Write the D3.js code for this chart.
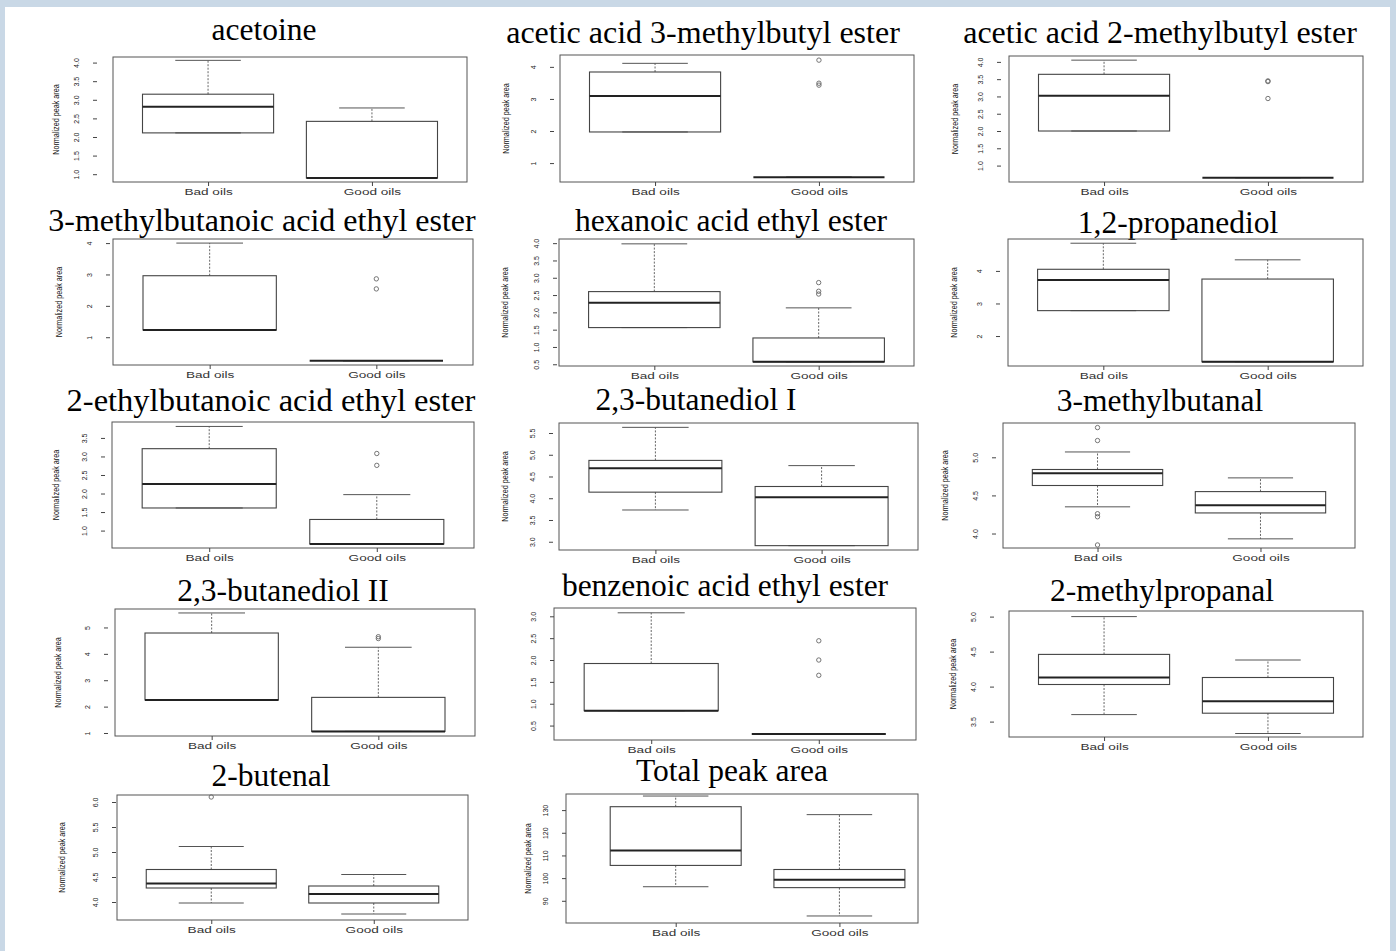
<!DOCTYPE html>
<html><head><meta charset="utf-8">
<script src="https://cdn.jsdelivr.net/npm/d3@7"></script>
<style>html,body{margin:0;padding:0;background:#fff;} svg{display:block;}</style>
</head><body>
<svg id="chart" width="1396" height="951"></svg>
<script>
// ---------- data ----------
const compounds = [
  "acetoine", "acetic acid 3-methylbutyl ester", "acetic acid 2-methylbutyl ester",
  "3-methylbutanoic acid ethyl ester", "hexanoic acid ethyl ester", "1,2-propanediol",
  "2-ethylbutanoic acid ethyl ester", "2,3-butanediol I", "3-methylbutanal",
  "2,3-butanediol II", "benzenoic acid ethyl ester", "2-methylpropanal",
  "2-butenal", "Total peak area"
];
const groups = ["Bad oils", "Good oils"];
// [lower whisker, Q1, median, Q3, upper whisker]
const badStats = [
  [2.11, 2.11, 2.81, 3.15, 4.06],
  [1.97, 1.97, 3.09, 3.84, 4.11],
  [2.00, 2.00, 3.02, 3.64, 4.05],
  [1.23, 1.23, 1.23, 2.96, 4.00],
  [1.56, 1.56, 2.28, 2.60, 3.98],
  [2.78, 2.78, 3.72, 4.05, 4.85],
  [1.61, 1.61, 2.26, 3.21, 3.81],
  [3.73, 4.14, 4.69, 4.87, 5.63],
  [4.35, 4.63, 4.79, 4.84, 5.07],
  [2.25, 2.25, 2.25, 4.79, 5.55],
  [0.84, 0.84, 0.84, 1.92, 3.08],
  [3.60, 4.03, 4.13, 4.46, 5.00],
  [3.98, 4.28, 4.37, 4.65, 5.11],
  [96.2, 105.6, 112.2, 131.5, 136.2]
];
const goodStats = [
  [0.90, 0.90, 0.90, 2.42, 2.78],
  [0.56, 0.56, 0.56, 0.56, 0.56],
  [0.65, 0.65, 0.65, 0.65, 0.65],
  [0.25, 0.25, 0.25, 0.25, 0.25],
  [0.57, 0.57, 0.57, 1.26, 2.13],
  [1.21, 1.21, 1.21, 3.75, 4.34],
  [0.64, 0.64, 0.64, 1.30, 1.97],
  [2.91, 2.91, 4.02, 4.27, 4.75],
  [3.93, 4.27, 4.37, 4.55, 4.73],
  [1.06, 1.06, 1.06, 2.35, 4.25],
  [0.31, 0.31, 0.31, 0.31, 0.31],
  [3.33, 3.62, 3.79, 4.13, 4.38],
  [3.76, 3.98, 4.16, 4.32, 4.55],
  [83.3, 95.8, 99.3, 103.8, 128.0]
];
const badOutliers = [[], [], [], [], [], [], [], [], [5.39, 5.22, 4.26, 4.22, 3.85], [], [], [], [6.10], []];
const goodOutliers = [[], [4.21, 3.49, 3.43], [3.45, 3.43, 2.94], [2.86, 2.54], [2.86, 2.61, 2.53], [], [3.08, 2.76], [], [], [4.65, 4.58], [2.44, 2.00, 1.65], [], [], []];
const yTickLabels = [
  ["1.0", "1.5", "2.0", "2.5", "3.0", "3.5", "4.0"],
  ["1", "2", "3", "4"],
  ["1.0", "1.5", "2.0", "2.5", "3.0", "3.5", "4.0"],
  ["1", "2", "3", "4"],
  ["0.5", "1.0", "1.5", "2.0", "2.5", "3.0", "3.5", "4.0"],
  ["2", "3", "4"],
  ["1.0", "1.5", "2.0", "2.5", "3.0", "3.5"],
  ["3.0", "3.5", "4.0", "4.5", "5.0", "5.5"],
  ["4.0", "4.5", "5.0"],
  ["1", "2", "3", "4", "5"],
  ["0.5", "1.0", "1.5", "2.0", "2.5", "3.0"],
  ["3.5", "4.0", "4.5", "5.0"],
  ["4.0", "4.5", "5.0", "5.5", "6.0"],
  ["90", "100", "110", "120", "130"]
];
// visible value range of each plot region [bottom, top]
const yRanges = [
  [0.79, 4.15], [0.41, 4.37], [0.525, 4.17], [0.115, 4.13], [0.45, 4.12], [1.08, 4.98],
  [0.53, 3.93], [2.81, 5.73], [3.81, 5.45], [0.886, 5.70], [0.17, 3.19], [3.28, 5.08],
  [3.64, 6.14], [80.2, 137.1]
];
const yTitle = "Normalized peak area";

// ---------- layout (pixels) ----------
const layout = [
  {l:113, t:57,  r:467, b:182, tx:264,  ty:40,  ts:31.5, lab:37, yt:57},
  {l:560, t:55,  r:914, b:182, tx:703,  ty:43,  ts:32,   lab:27, yt:54},
  {l:1009,t:56,  r:1363,b:182, tx:1160, ty:43,  ts:32,   lab:29, yt:54},
  {l:113, t:239, r:473, b:365, tx:262,  ty:231, ts:32,   lab:24, yt:54},
  {l:559, t:239, r:914, b:366, tx:731,  ty:231, ts:31.5, lab:23, yt:54},
  {l:1008,t:239, r:1363,b:366, tx:1178, ty:233, ts:31.5, lab:29, yt:54},
  {l:112, t:422, r:474, b:548, tx:271,  ty:411, ts:32.5, lab:28, yt:56},
  {l:559, t:423, r:918, b:550, tx:696,  ty:410, ts:31.5, lab:27, yt:54},
  {l:1003,t:423, r:1355,b:548, tx:1160, ty:411, ts:31.5, lab:28, yt:58},
  {l:115, t:609, r:475, b:736, tx:283,  ty:601, ts:31.5, lab:28, yt:57},
  {l:554, t:608, r:916, b:740, tx:725,  ty:596, ts:31.5, lab:21, yt:null},
  {l:1009,t:611, r:1363,b:737, tx:1162, ty:601, ts:31.5, lab:36, yt:56},
  {l:117, t:795, r:468, b:920, tx:271,  ty:786, ts:31.5, lab:22, yt:55},
  {l:566, t:794, r:918, b:923, tx:732,  ty:781, ts:31.5, lab:21, yt:38, xd:[0.33, 2.48]}
];

const svg = d3.select("#chart");
svg.append("rect").attr("width", 1396).attr("height", 951).attr("fill", "#c9d8e6");
svg.append("rect").attr("x", 5).attr("y", 7).attr("width", 1385).attr("height", 944).attr("fill", "#ffffff");

const sansFont = "'Liberation Sans', Arial, Helvetica, sans-serif";
const serifFont = "'Liberation Serif', 'Times New Roman', Times, serif";

compounds.forEach((name, i) => {
  const L = layout[i];
  const g = svg.append("g");
  const x = d3.scaleLinear().domain(L.xd || [0.42, 2.58]).range([L.l, L.r]);
  const y = d3.scaleLinear().domain(yRanges[i]).range([L.b, L.t]);
  const hw = x(1.4) - x(1);

  // title
  g.append("text").attr("x", L.tx).attr("y", L.ty)
    .attr("text-anchor", "middle").attr("font-family", serifFont)
    .attr("font-size", L.ts).attr("fill", "#000").text(name);

  // frame
  g.append("rect").attr("x", L.l).attr("y", L.t)
    .attr("width", L.r - L.l).attr("height", L.b - L.t)
    .attr("fill", "none").attr("stroke", "#555").attr("stroke-width", 1);

  // boxes
  [badStats[i], goodStats[i]].forEach((s, j) => {
    const cx = x(j + 1);
    const bg = g.append("g");
    if (s[4] > s[3]) {
      bg.append("line").attr("x1", cx).attr("x2", cx).attr("y1", y(s[3])).attr("y2", y(s[4]))
        .attr("stroke", "#666").attr("stroke-dasharray", "2,1.5");
    }
    if (s[0] < s[1]) {
      bg.append("line").attr("x1", cx).attr("x2", cx).attr("y1", y(s[1])).attr("y2", y(s[0]))
        .attr("stroke", "#666").attr("stroke-dasharray", "2,1.5");
    }
    [s[0], s[4]].forEach(v => {
      bg.append("line").attr("x1", cx - hw / 2).attr("x2", cx + hw / 2)
        .attr("y1", y(v)).attr("y2", y(v)).attr("stroke", "#555").attr("stroke-width", 1);
    });
    bg.append("rect").attr("x", cx - hw).attr("y", y(s[3]))
      .attr("width", 2 * hw).attr("height", Math.max(0, y(s[1]) - y(s[3])))
      .attr("fill", "none").attr("stroke", "#444").attr("stroke-width", 1.1);
    bg.append("line").attr("x1", cx - hw).attr("x2", cx + hw)
      .attr("y1", y(s[2])).attr("y2", y(s[2])).attr("stroke", "#222").attr("stroke-width", 2);
  });

  // outliers
  [badOutliers[i], goodOutliers[i]].forEach((arr, j) => {
    g.selectAll(null).data(arr).enter().append("circle")
      .attr("cx", x(j + 1)).attr("cy", d => y(d)).attr("r", 2.2)
      .attr("fill", "none").attr("stroke", "#666").attr("stroke-width", 0.9);
  });

  // y axis
  const labX = L.l - L.lab;
  const tickVals = yTickLabels[i].map(Number);
  const yAxis = d3.axisLeft(y).tickValues(tickVals)
    .tickFormat((d, k) => yTickLabels[i][k]).tickSize(4);
  const ya = g.append("g").attr("transform", `translate(${labX + 21},0)`).call(yAxis);
  ya.select(".domain").remove();
  ya.selectAll(".tick line").attr("stroke", "#444");
  ya.selectAll(".tick text")
    .attr("x", 0).attr("y", 0).attr("dy", null)
    .attr("text-anchor", "middle")
    .attr("transform", "translate(-18.4,0) rotate(-90)")
    .attr("font-family", sansFont).attr("font-size", 7).attr("fill", "#222");

  // y title
  if (L.yt !== null) {
    g.append("text")
      .attr("transform", `translate(${L.l - L.yt + 3},${(L.t + L.b) / 2}) rotate(-90) scale(0.76,1)`)
      .attr("text-anchor", "middle").attr("font-family", sansFont)
      .attr("font-size", 9.5).attr("fill", "#111").text(yTitle);
  }

  // x axis
  const xAxis = d3.axisBottom(x).tickValues([1, 2])
    .tickFormat(d => groups[d - 1]).tickSize(4);
  const xa = g.append("g").attr("transform", `translate(0,${L.b})`).call(xAxis);
  xa.select(".domain").remove();
  xa.selectAll(".tick line").attr("stroke", "#444");
  xa.selectAll(".tick text")
    .attr("y", 0).attr("dy", null)
    .attr("transform", "translate(0,12.5) scale(1.6,1)")
    .attr("font-family", sansFont).attr("font-size", 8.5).attr("fill", "#333");
});
</script>
</body></html>
